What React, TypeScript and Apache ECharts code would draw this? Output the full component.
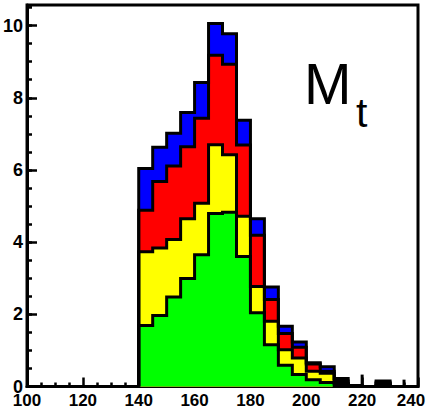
import React, { useEffect, useRef } from "react";
import * as echarts from "echarts";

// Histogram bins (left edges), width 5
const binStarts = [140, 145, 150, 155, 160, 165, 170, 175, 180, 185, 190, 195, 200, 205, 210, 215, 220, 225, 230, 235];
const binWidth = 5;

// Stacked components (bottom to top)
const green = [1.69, 1.97, 2.48, 2.99, 3.65, 4.79, 4.83, 3.6, 2.04, 1.16, 0.59, 0.33, 0.19, 0.11, 0.03, 0, 0, 0.03, 0, 0];
const yellow = [2.04, 1.87, 1.59, 1.66, 1.43, 1.91, 1.59, 1.12, 0.73, 0.65, 0.43, 0.46, 0.23, 0.26, 0.05, 0, 0, 0.05, 0, 0];
const red = [1.15, 1.84, 2.04, 1.99, 2.35, 2.48, 2.51, 1.97, 1.42, 0.6, 0.45, 0.3, 0.2, 0.05, 0.07, 0.02, 0, 0.04, 0, 0];
const blue = [1.16, 0.95, 0.91, 0.95, 0.99, 0.88, 0.84, 0.69, 0.46, 0.35, 0.2, 0.14, 0.04, 0.13, 0.07, 0.01, 0, 0.03, 0, 0];

// Thin vertical spikes in the tail
const spikeX = [220, 235];
const spikeH = [0.33, 0.19];

const xMin = 100;
const xMax = 240;
const yMax = 10.57;

const layerColors = ["#00ff00", "#ffff00", "#ff0000", "#0000ff"];

function cumulate(layers: number[][]): number[][] {
  const out: number[][] = [];
  let run = binStarts.map(() => 0);
  layers.forEach((l) => {
    run = run.map((v, i) => v + l[i]);
    out.push(run.slice());
  });
  return out;
}

function stepData(values: number[]): [number, number][] {
  const pts: [number, number][] = [[binStarts[0], 0]];
  values.forEach((v, i) => pts.push([binStarts[i], v]));
  pts.push([binStarts[binStarts.length - 1] + binWidth, 0]);
  return pts;
}

const FONT = "Liberation Sans";

export default function App() {
  const ref = useRef<HTMLDivElement>(null);
  useEffect(() => {
    if (!ref.current) return;
    const chart = echarts.init(ref.current, undefined, { renderer: "svg" });
    const cum = cumulate([green, yellow, red, blue]);
    // draw top-most cumulative first
    const order = [3, 2, 1, 0];
    const series: any[] = order.map((k) => ({
      type: "line",
      step: "end",
      data: stepData(cum[k]),
      symbol: "none",
      showSymbol: false,
      lineStyle: { color: "#000", width: 3, cap: "butt", join: "miter" },
      areaStyle: { color: layerColors[k], opacity: 1 },
      xAxisIndex: 0,
      yAxisIndex: 0,
      silent: true,
    }));
    series.push({
      type: "bar",
      data: spikeX.map((x, i) => [x, spikeH[i]]),
      barWidth: 3,
      itemStyle: { color: "#000" },
      xAxisIndex: 0,
      yAxisIndex: 0,
      silent: true,
    });

    chart.setOption({
      animation: false,
      grid: {
        left: 27,
        right: 19,
        top: 5,
        bottom: 23.5,
        show: true,
        borderColor: "#000",
        borderWidth: 3,
        backgroundColor: "transparent",
      },
      xAxis: {
        type: "value",
        min: xMin,
        max: xMax,
        interval: 20,
        axisLine: { show: true, onZero: false, lineStyle: { color: "#000", width: 3 } },
        axisTick: { show: true, inside: true, length: 9, lineStyle: { color: "#000", width: 2.5 } },
        minorTick: { show: true, splitNumber: 4, length: 4, lineStyle: { color: "#000", width: 2.5 } },
        axisLabel: {
          margin: 5,
          fontSize: 17,
          fontWeight: "bold",
          fontFamily: FONT,
          color: "#000",
          formatter: (v: number) => (v === xMax ? "{r|" + v + "}" : String(v)),
          rich: {
            r: { fontSize: 17, fontWeight: "bold", fontFamily: FONT, color: "#000", padding: [0, 14, 0, 0] },
          },
        },
        splitLine: { show: false },
        minorSplitLine: { show: false },
      },
      yAxis: [
        {
          type: "value",
          min: 0,
          max: yMax,
          interval: 2,
          axisLine: { show: true, lineStyle: { color: "#000", width: 3 } },
          axisTick: { show: true, inside: true, length: 10, lineStyle: { color: "#000", width: 2.5 } },
          axisLabel: {
            margin: 4,
            fontSize: 18,
            fontWeight: "bold",
            fontFamily: FONT,
            color: "#000",
            showMaxLabel: false,
            formatter: (v: number) => (Math.abs(v / 2 - Math.round(v / 2)) < 1e-6 ? String(v) : ""),
          },
          splitLine: { show: false },
        },
        {
          type: "value",
          min: 0,
          max: yMax,
          interval: 0.5,
          position: "left",
          offset: 0,
          axisLine: { show: false },
          axisTick: { show: true, inside: true, length: 5, lineStyle: { color: "#000", width: 2.5 } },
          axisLabel: { show: false },
          splitLine: { show: false },
        },
      ],
      series,
      graphic: [
        {
          type: "text",
          left: 304,
          top: 55,
          style: {
            text: "M",
            fontSize: 57,
            fontFamily: FONT,
            fill: "#000",
          },
          z: 100,
        },
        {
          type: "text",
          left: 356,
          top: 92,
          style: {
            text: "t",
            fontSize: 41,
            fontFamily: FONT,
            fill: "#000",
          },
          z: 100,
        },
      ],
    });
    return () => chart.dispose();
  }, []);
  return (
    <div
      ref={ref}
      style={{ position: "fixed", left: 0, top: 0, width: 437, height: 410, background: "#fff" }}
    />
  );
}
